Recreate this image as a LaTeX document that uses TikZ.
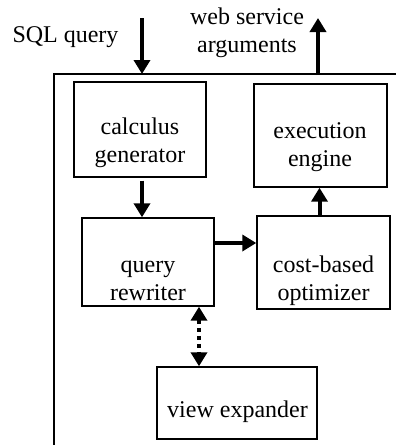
\documentclass[tikz,border=0pt]{standalone}
\usepackage{fontspec}
\setmainfont{Liberation Serif}
\usetikzlibrary{arrows.meta}
\begin{document}
\begin{tikzpicture}[x=1pt,y=-1pt,
  box/.style={draw, line width=1.4pt, inner sep=0pt},
  lbl/.style={font=\fontsize{24}{28}\selectfont, align=center, inner sep=0pt},
  flow/.style={line width=4pt, -{Triangle[length=14pt,width=16pt]}},
  twoway/.style={line width=4pt, dash pattern=on 4pt off 4pt,
    {Triangle[length=14pt,width=16pt]}-{Triangle[length=14pt,width=16pt]}},
  frame/.style={line width=1.4pt}
]
\useasboundingbox (0,0) rectangle (396,445);
\clip (0,0) rectangle (396,445);

% outer frame (only top and left edges visible)
\coordinate (frBL) at (54,460);
\coordinate (frTR) at (410,74);
\draw[frame] (frBL) |- (frTR);

% boxes
\node[box, minimum width=132pt, minimum height=95pt]  (calc) at (140,129.5) {};
\node[box, minimum width=133pt, minimum height=103pt] (eng)  at (320.5,135.5) {};
\node[box, minimum width=132pt, minimum height=88pt]  (rew)  at (148,262) {};
\node[box, minimum width=133pt, minimum height=93pt]  (opt)  at (323.5,262.5) {};
\node[box, minimum width=160pt, minimum height=72pt]  (vexp) at (237,403) {};

% labels
\node[lbl] (calcT) at (140,142.4) {calculus\strut\\generator\strut};
\node[lbl] (engT)  at (320,146.4) {execution\strut\\engine\strut};
\node[lbl] (rewT)  at (148,280.4) {query\strut\\rewriter\strut};
\node[lbl] (optT)  at (323.5,280.4) {cost-based\strut\\optimizer\strut};
\node[lbl] (vexpT) at (237.5,411.4) {view expander\strut};
\node[lbl] (sqlT)  at (65.5,36.4) {SQL query\strut};
\node[lbl] (wsT)   at (247,32.4) {web service\strut\\arguments\strut};

% connectors
\coordinate (sqlS) at (142,18);
\coordinate (sqlE) at (142,74);
\draw[flow] (sqlS) -- (sqlE);
\coordinate (wsS) at (318,75);
\coordinate (wsE) at (318,18);
\draw[flow] (wsS) -- (wsE);

\draw[flow] ([xshift=2pt,yshift=-3pt]calc.south) -- ([xshift=2pt]calc.south |- rew.north);
\draw[flow] ([yshift=19pt]rew.east) -- ([yshift=19pt]rew.east -| opt.west);
\draw[flow] ([xshift=-1pt]eng.south |- opt.north) -- ([xshift=-1pt]eng.south);

\coordinate (dx) at (199,0);
\draw[twoway] (rew.south -| dx) -- (vexp.north -| dx);
\end{tikzpicture}
\end{document}
